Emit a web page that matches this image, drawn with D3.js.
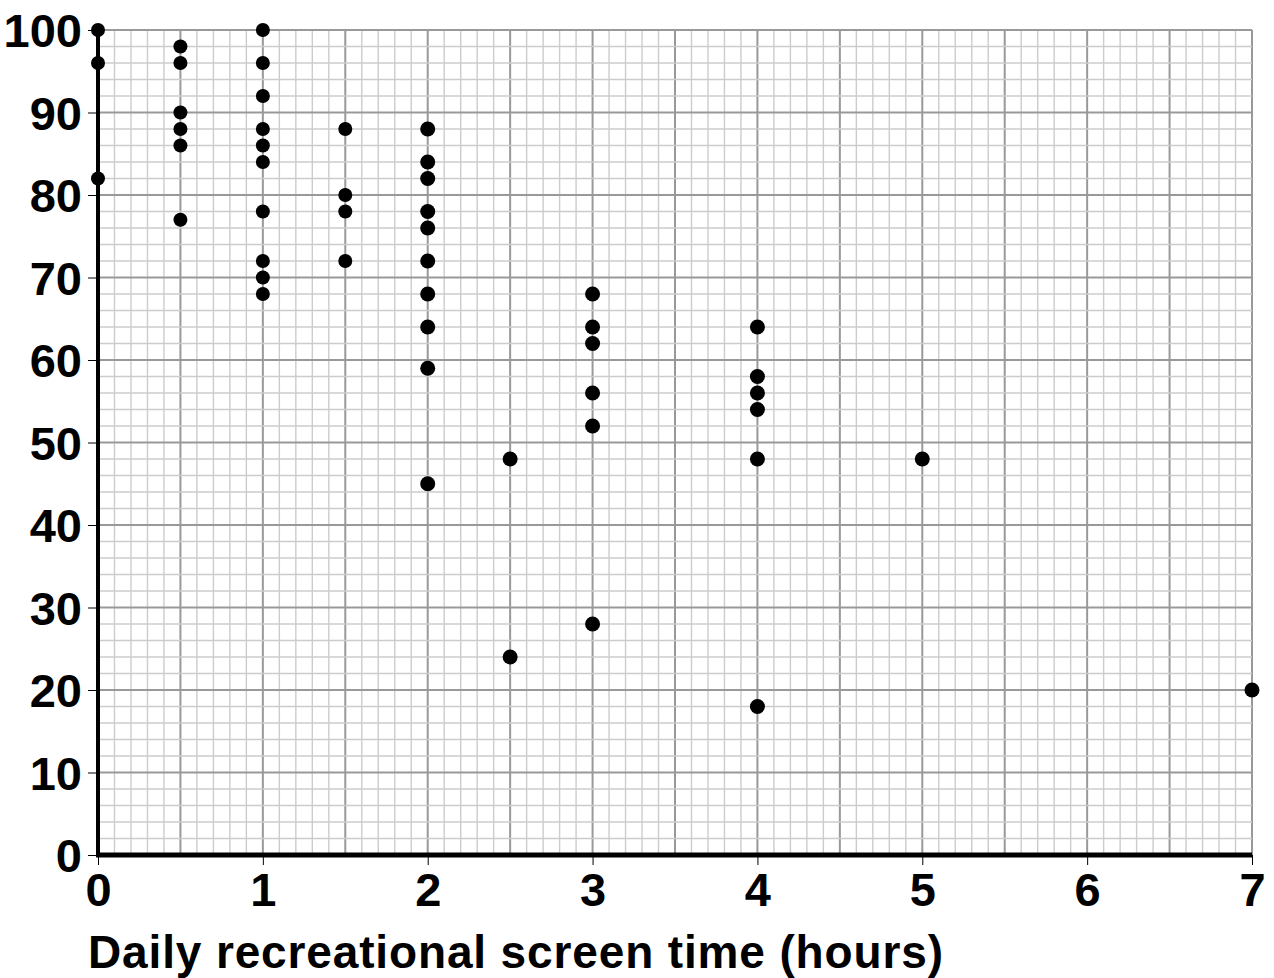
<!DOCTYPE html>
<html>
<head>
<meta charset="utf-8">
<script src="https://cdn.jsdelivr.net/npm/d3@7"></script>
<style>
  body { margin: 0; background: #fff; }
  text { font-family: "Liberation Sans", Arial, sans-serif; font-weight: bold; }
</style>
</head>
<body>
<svg id="mainsvg" width="1274" height="978"></svg>
<script>
// screen time (hours) and score for each pupil
const hours = [
  0, 0, 0,
  0.5, 0.5, 0.5, 0.5, 0.5, 0.5,
  1, 1, 1, 1, 1, 1, 1, 1, 1, 1,
  1.5, 1.5, 1.5, 1.5,
  2, 2, 2, 2, 2, 2, 2, 2, 2, 2,
  2.5, 2.5,
  3, 3, 3, 3, 3, 3,
  4, 4, 4, 4, 4, 4,
  5,
  7
];
const scores = [
  100, 96, 82,
  98, 96, 90, 88, 86, 77,
  100, 96, 92, 88, 86, 84, 78, 72, 70, 68,
  88, 80, 78, 72,
  88, 84, 82, 78, 76, 72, 68, 64, 59, 45,
  48, 24,
  68, 64, 62, 56, 52, 28,
  64, 58, 56, 54, 48, 18,
  48,
  20
];
const xTicks = [0, 1, 2, 3, 4, 5, 6, 7];
const yTicks = [0, 10, 20, 30, 40, 50, 60, 70, 80, 90, 100];
const xLabel = 'Daily recreational screen time (hours)';

const svg = d3.select('#mainsvg');
const margin = { top: 30, right: 22, bottom: 123, left: 98 };
const width = +svg.attr('width');
const height = +svg.attr('height');
const innerWidth = width - margin.left - margin.right;
const innerHeight = height - margin.top - margin.bottom;
const g = svg.append('g')
  .attr('transform', `translate(${margin.left}, ${margin.top})`);

const x = d3.scaleLinear().domain([0, 7]).range([0, innerWidth]);
const y = d3.scaleLinear().domain([0, 100]).range([innerHeight, 0]);

// graph paper: minor every 0.1 h / 2 points, major every 0.5 h / 10 points
const xMinor = d3.range(0, 71).map(i => i / 10);
const yMinor = d3.range(0, 51).map(i => i * 2);

g.selectAll('line.vx').data(xMinor).join('line')
  .attr('class', 'vx')
  .attr('x1', d => x(d)).attr('x2', d => x(d))
  .attr('y1', 0).attr('y2', innerHeight)
  .attr('stroke', d => (Math.round(d * 10) % 5 === 0) ? '#999' : '#ccc')
  .attr('stroke-width', d => (Math.round(d * 10) % 5 === 0) ? 2 : 1.4);

g.selectAll('line.hy').data(yMinor).join('line')
  .attr('class', 'hy')
  .attr('x1', 0).attr('x2', innerWidth)
  .attr('y1', d => y(d)).attr('y2', d => y(d))
  .attr('stroke', d => d % 10 === 0 ? '#999' : '#ccc')
  .attr('stroke-width', d => d % 10 === 0 ? 2 : 1.4);

// axes
const xAxis = d3.axisBottom(x).tickValues(xTicks).tickFormat(d3.format('d')).tickSize(10).tickPadding(6);
const yAxis = d3.axisLeft(y).tickValues(yTicks).tickFormat(d3.format('d')).tickSize(10).tickPadding(6);

const xg = g.append('g').attr('transform', `translate(0, ${innerHeight})`).call(xAxis);
xg.select('.domain').remove();
xg.selectAll('text').attr('font-size', 47).attr('font-family', null)
  .attr('dy', '0.71em').attr('y', 18);

const yg = g.append('g').call(yAxis);
yg.select('.domain').remove();
yg.selectAll('text').attr('font-size', 47).attr('font-family', null)
  .attr('dy', '0.36em').attr('x', -16);

g.append('line')
  .attr('x1', 0).attr('x2', 0).attr('y1', 0).attr('y2', innerHeight + 2)
  .attr('stroke', 'black').attr('stroke-width', 4);
g.append('line')
  .attr('x1', -2).attr('x2', innerWidth).attr('y1', innerHeight).attr('y2', innerHeight)
  .attr('stroke', 'black').attr('stroke-width', 5);

// points
const points = hours.map((h, i) => ({ h: h, s: scores[i] }));
g.selectAll('circle').data(points).join('circle')
  .attr('cx', d => x(d.h))
  .attr('cy', d => y(d.s))
  .attr('r', d => d.h < 2 ? 7 : 7.5)
  .attr('fill', 'black');

svg.append('text')
  .attr('x', 88)
  .attr('y', 968)
  .attr('font-size', 46)
  .attr('textLength', 855)
  .attr('lengthAdjust', 'spacing')
  .text(xLabel);
</script>
</body>
</html>
